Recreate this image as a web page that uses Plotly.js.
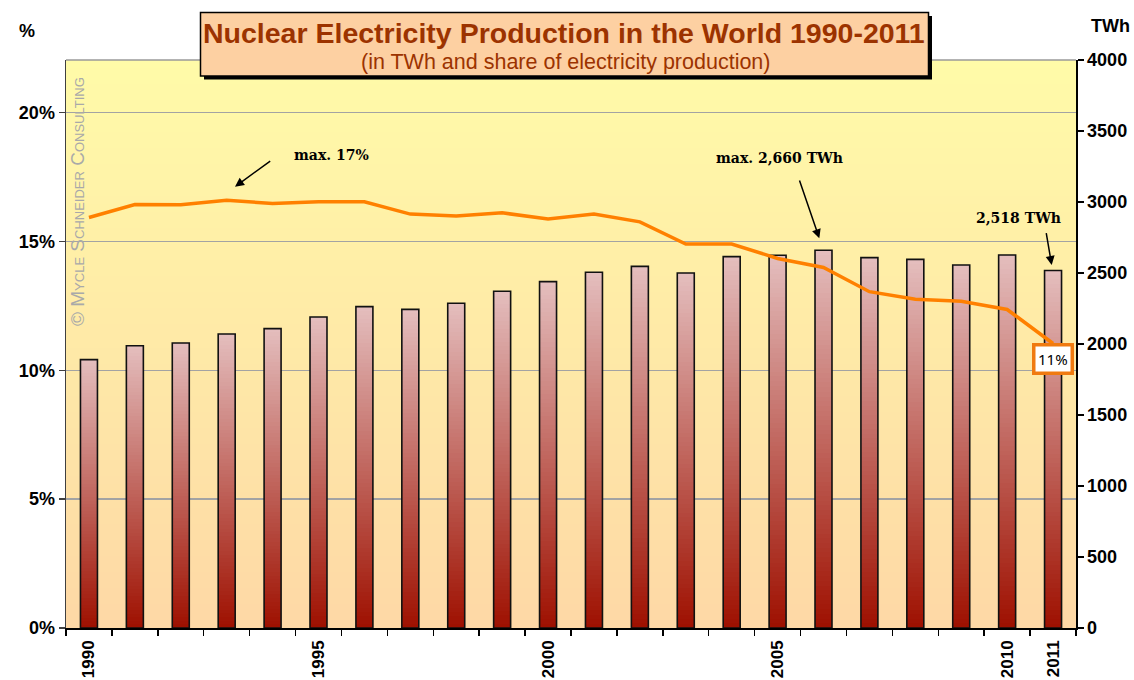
<!DOCTYPE html>
<html>
<head>
<meta charset="utf-8">
<script src="https://cdn.plot.ly/plotly-3.0.1.min.js"></script>
<style>html,body{margin:0;padding:0;background:#fff;}#chart{width:1134px;height:680px;}</style>
</head>
<body>
<div id="chart"></div>
<script>
// ---- data ----
const years = [1990,1991,1992,1993,1994,1995,1996,1997,1998,1999,2000,2001,2002,2003,2004,2005,2006,2007,2008,2009,2010,2011];
const productionTWh = [1890,1988,2007,2070,2108,2190,2263,2244,2287,2371,2439,2505,2547,2500,2615,2625,2660,2608,2596,2556,2627,2518];
const sharePct = [15.93,16.43,16.42,16.60,16.47,16.54,16.54,16.06,15.99,16.11,15.87,16.06,15.76,14.90,14.90,14.34,13.99,13.05,12.76,12.68,12.36,11.04];
const xTickYears = [1990,1995,2000,2005,2010,2011];
const xTickLabels = ['1990','1995','2000','2005','2010','2011'];
const pctTicks = [0,5,10,15,20];
const pctTickLabels = ['0%','5%','10%','15%','20%'];
const twhTicks = [0,500,1000,1500,2000,2500,3000,3500,4000];

// ---- geometry helpers (pixels -> paper) ----
const L = 66, R = 1076, T = 60, B = 628;
const px = x => (x - L) / (R - L);
const py = y => (B - y) / (B - T);

function lerpColor(c1, c2, f) {
  const r = Math.round(c1[0] + (c2[0]-c1[0])*f);
  const g = Math.round(c1[1] + (c2[1]-c1[1])*f);
  const b = Math.round(c1[2] + (c2[2]-c1[2])*f);
  return 'rgb(' + r + ',' + g + ',' + b + ')';
}

const SANS = 'Liberation Sans, Arial, sans-serif';
const SERIF = 'DejaVu Serif, Liberation Serif, serif';

// ---- bar traces: gradient built from stacked slices of each bar ----
const barBottom = [158, 16, 0], barTop = [228, 190, 190];
const NSEG = 80;
const barWidth = 0.37;
const traces = [];
for (let k = 0; k < NSEG; k++) {
  const base = productionTWh.map(v => v * k / NSEG);
  const h = productionTWh.map(v => (k === NSEG - 1) ? v / NSEG : v / NSEG * 1.6);
  const col = productionTWh.map(() => lerpColor(barBottom, barTop, (k + 0.5) / NSEG));
  traces.push({
    type: 'bar', x: years, y: h, base: base, width: barWidth,
    marker: {color: col, line: {width: 0}},
    xaxis: 'x', yaxis: 'y', hoverinfo: 'skip', showlegend: false
  });
}
// outline
traces.push({
  type: 'bar', x: years, y: productionTWh, base: 0, width: barWidth,
  marker: {color: 'rgba(0,0,0,0)', line: {color: '#111', width: 1.6}},
  xaxis: 'x', yaxis: 'y', hoverinfo: 'skip', showlegend: false
});
// share line
traces.push({
  type: 'scatter', mode: 'lines', x: years, y: sharePct,
  line: {color: '#ff8000', width: 3.5},
  xaxis: 'x2', yaxis: 'y2', hoverinfo: 'skip', showlegend: false
});

// ---- background gradient strips ----
const bgTop = [255, 251, 168], bgBottom = [254, 216, 166];
const shapes = [];
const NBG = 71;
for (let i = 0; i < NBG; i++) {
  const y0 = i / NBG, y1 = Math.min(1, (i + 1.5) / NBG);
  shapes.push({type: 'rect', xref: 'paper', yref: 'paper', x0: 0, x1: 1, y0: y0, y1: y1,
    fillcolor: lerpColor(bgBottom, bgTop, (i + 0.5) / NBG), line: {width: 0}, layer: 'below'});
}
// top border of plot
shapes.push({type: 'line', xref: 'paper', yref: 'paper', x0: 0, x1: 1, y0: 1, y1: 1,
  line: {color: '#9a9a9a', width: 1.5}, layer: 'above'});
// title box shadow + box
shapes.push({type: 'rect', xref: 'paper', yref: 'paper', x0: px(204), x1: px(932), y0: py(16), y1: py(79.5),
  fillcolor: '#000', line: {width: 0}, layer: 'above'});
shapes.push({type: 'rect', xref: 'paper', yref: 'paper', x0: px(200.5), x1: px(928.5), y0: py(12.5), y1: py(76),
  fillcolor: '#fdd0a2', line: {color: '#000', width: 1.5}, layer: 'above'});

const annFont = {family: SERIF, size: 14, color: '#000', weight: 'bold'};
const annotations = [
  {xref: 'paper', yref: 'paper', x: px(564), y: py(33), text: '<b>Nuclear Electricity Production in the World 1990-2011</b>',
   showarrow: false, font: {family: SANS, size: 28.5, color: '#9c3300'}, xanchor: 'center', yanchor: 'middle'},
  {xref: 'paper', yref: 'paper', x: px(565), y: py(62), text: '(in TWh and share of electricity production)',
   showarrow: false, font: {family: SANS, size: 21.5, color: '#9c3300'}, xanchor: 'center', yanchor: 'middle'},
  {xref: 'paper', yref: 'paper', x: px(27), y: py(31), text: '<b>%</b>', showarrow: false,
   font: {family: SANS, size: 18, color: '#000'}, xanchor: 'center', yanchor: 'middle'},
  {xref: 'paper', yref: 'paper', x: px(1110), y: py(26), text: '<b>TWh</b>', showarrow: false,
   font: {family: SANS, size: 18, color: '#000'}, xanchor: 'center', yanchor: 'middle'},
  {xref: 'paper', yref: 'paper', x: px(77), y: py(202), text: '© Mycle Schneider Consulting', textangle: -90,
   showarrow: false, font: {family: SANS, size: 19, color: '#a9a9a9', variant: 'small-caps'}, xanchor: 'center', yanchor: 'middle'},
  {xref: 'paper', yref: 'paper', x: px(331), y: py(155), text: 'max. 17%', showarrow: false, font: annFont,
   xanchor: 'center', yanchor: 'middle'},
  {xref: 'paper', yref: 'paper', x: px(779), y: py(158), text: 'max. 2,660 TWh', showarrow: false, font: annFont,
   xanchor: 'center', yanchor: 'middle'},
  {xref: 'paper', yref: 'paper', x: px(1018), y: py(218), text: '2,518 TWh', showarrow: false, font: annFont,
   xanchor: 'center', yanchor: 'middle'},
  {xref: 'paper', yref: 'paper', x: px(235), y: py(186.7), ax: 36.7, ay: -26.7, text: '', showarrow: true,
   arrowhead: 2, arrowsize: 1.2, arrowwidth: 1.5, arrowcolor: '#000'},
  {xref: 'paper', yref: 'paper', x: px(819.3), y: py(238.3), ax: -20.3, ay: -59.3, text: '', showarrow: true,
   arrowhead: 2, arrowsize: 1.2, arrowwidth: 1.5, arrowcolor: '#000'},
  {xref: 'paper', yref: 'paper', x: px(1051.7), y: py(265), ax: -5.7, ay: -33.3, text: '', showarrow: true,
   arrowhead: 2, arrowsize: 1.2, arrowwidth: 1.5, arrowcolor: '#000'},
  {xref: 'paper', yref: 'paper', x: px(1052.8), y: py(359), text: '11%', showarrow: false,
   font: {family: 'Noto Sans, sans-serif', size: 15, color: '#000'}, bgcolor: '#fff', bordercolor: '#f07a10',
   borderwidth: 3.5, borderpad: 2.5, xanchor: 'center', yanchor: 'middle'}
];

const boundaries = [];
for (let i = 0; i <= years.length; i++) boundaries.push(years[0] - 0.5 + i);

const layout = {
  width: 1134, height: 680,
  margin: {l: 66, r: 58, t: 60, b: 52, pad: 0},
  paper_bgcolor: '#fff', plot_bgcolor: 'rgba(0,0,0,0)',
  barmode: 'overlay', bargap: 0, hovermode: false, showlegend: false,
  xaxis: {type: 'linear', range: [years[0] - 0.5, years[years.length-1] + 0.5], tickvals: boundaries,
    showticklabels: false, ticks: 'outside', ticklen: 6, tickwidth: 1.5, tickcolor: '#000',
    showline: true, linecolor: '#000', linewidth: 1.5, showgrid: false, zeroline: false, anchor: 'y', fixedrange: true},
  xaxis2: {type: 'linear', overlaying: 'x', side: 'bottom', anchor: 'y2',
    range: [years[0] - 0.5, years[years.length-1] + 0.5], tickvals: xTickYears, ticktext: xTickLabels,
    tickangle: -90, ticks: '', showline: false, showgrid: false, zeroline: false,
    tickfont: {family: SANS, size: 17, color: '#000', weight: 'bold'}, ticklabelstandoff: 8, fixedrange: true},
  yaxis: {range: [0, 4000], tickvals: twhTicks, side: 'right', anchor: 'x',
    ticks: 'outside', ticklen: 6, tickwidth: 1.5, tickcolor: '#000', showline: true, linecolor: '#000', linewidth: 1.5,
    showgrid: false, zeroline: false, tickfont: {family: SANS, size: 18, color: '#000', weight: 'bold'}, fixedrange: true},
  yaxis2: {range: [0, 22.04], tickvals: pctTicks, ticktext: pctTickLabels, side: 'left', overlaying: 'y', anchor: 'x2',
    ticks: 'outside', ticklen: 6, tickwidth: 1.5, tickcolor: '#404040', showline: true, linecolor: '#404040', linewidth: 1.5,
    showgrid: true, gridcolor: '#a3a3a3', gridwidth: 1.5, zeroline: false,
    tickfont: {family: SANS, size: 18, color: '#000', weight: 'bold'}, fixedrange: true},
  shapes: shapes,
  annotations: annotations
};

Plotly.newPlot('chart', traces, layout, {displayModeBar: false, staticPlot: true});
</script>
</body>
</html>
